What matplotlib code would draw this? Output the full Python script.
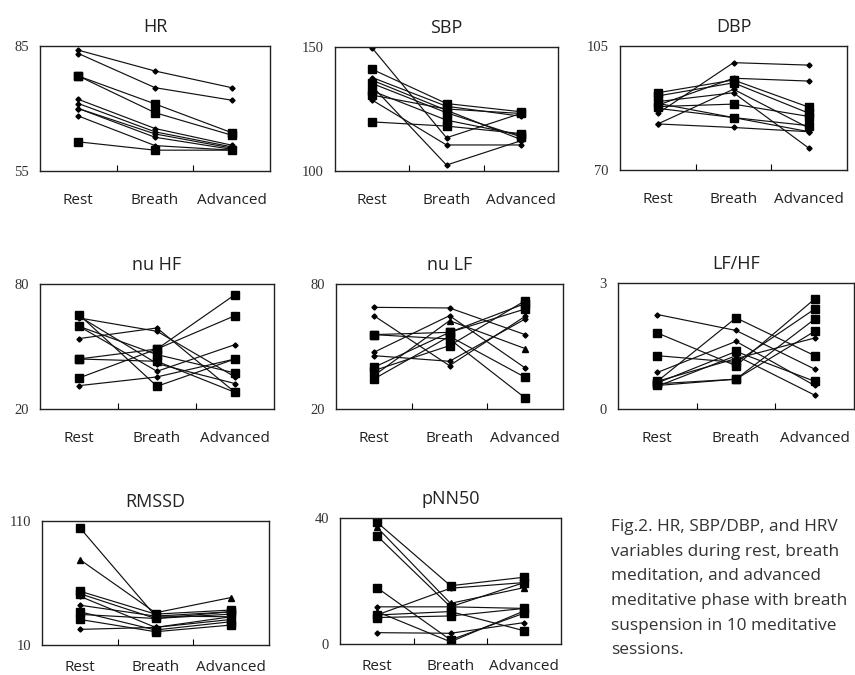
import matplotlib
matplotlib.use("Agg")
import matplotlib.pyplot as plt

phases = ["Rest", "Breath", "Advanced"]

# ten sessions per variable: values at rest, breath, advanced
hr = [[84.0, 79.0, 75.0], [83.2, 75.0, 72.0], [77.8, 71.1, 64.2], [77.8, 69.0, 63.6],
      [72.2, 65.2, 61.2], [71.2, 64.4, 60.8], [70.0, 63.9, 60.5], [70.0, 63.1, 60.2],
      [68.2, 61.1, 60.0], [62.0, 60.0, 60.0]]
hr_marks = ["D", "D", "s", "s", "D", "D", "D", "D", "D", "s"]

sbp = [[149.6, 113.4, 123.2], [134.2, 102.4, 112.2], [128.6, 110.5, 110.5],
       [141.0, 127.2, 123.9], [137.7, 126.1, 122.1], [136.6, 124.5, 112.7],
       [135.3, 123.5, 113.8], [132.3, 120.5, 114.5], [130.6, 125.0, 123.2],
       [119.8, 118.1, 115.1]]
sbp_marks = ["D", "D", "D", "s", "D", "D", "s", "s", "s", "s"]

dbp = [[86.0, 100.3, 99.6], [83.0, 92.8, 81.8], [83.0, 82.0, 80.8], [88.3, 95.9, 95.1],
       [91.8, 95.4, 87.7], [90.9, 94.6, 86.0], [89.3, 91.8, 76.1], [87.9, 88.6, 85.1],
       [87.4, 84.8, 80.8], [88.8, 84.8, 82.5]]
dbp_marks = ["D", "D", "D", "D", "s", "s", "D", "s", "D", "s"]

nuhf = [[31.2, 35.4, 44.0], [34.9, 48.8, 74.9], [53.8, 58.9, 28.0], [65.3, 30.9, 44.0],
        [44.0, 48.8, 64.8], [44.0, 42.9, 28.0], [63.7, 57.3, 35.4], [59.7, 46.1, 37.3],
        [64.5, 41.8, 32.2], [59.7, 38.1, 50.9]]
nuhf_marks = ["D", "s", "D", "s", "s", "s", "D", "s", "D", "D"]

nulf = [[68.8, 68.5, 55.7], [64.8, 40.8, 64.5], [55.7, 53.6, 25.3], [47.2, 64.8, 39.7],
        [45.6, 42.9, 63.2], [40.0, 56.8, 70.6], [38.4, 50.4, 72.0], [36.0, 62.4, 49.0],
        [34.4, 54.9, 35.2], [55.7, 56.8, 68.0]]
nulf_marks = ["D", "D", "s", "D", "D", "s", "s", "^", "s", "s"]

lfhf = [[2.25, 1.87, 0.95], [1.81, 1.03, 2.62], [1.27, 1.11, 2.38], [0.87, 1.61, 0.56],
        [0.66, 2.17, 1.27], [0.62, 1.37, 0.66], [0.56, 0.71, 2.14], [0.54, 1.27, 0.33],
        [0.60, 0.71, 1.85], [0.66, 1.20, 1.69]]
lfhf_marks = ["D", "s", "s", "D", "s", "s", "s", "D", "s", "D"]

rmssd = [[104.6, 33.3, 36.8], [78.9, 36.0, 48.3], [53.4, 34.9, 38.2], [51.4, 31.4, 34.9],
         [49.3, 24.2, 30.6], [42.1, 33.3, 32.8], [36.8, 22.1, 28.8], [34.7, 31.4, 36.8],
         [30.6, 20.7, 26.1], [22.6, 24.2, 32.8]]
rmssd_marks = ["s", "^", "s", "s", "D", "D", "s", "D", "s", "D"]

pnn50 = [[38.7, 18.5, 21.2], [37.1, 12.9, 17.9], [34.4, 11.8, 19.5], [17.9, 1.3, 9.8],
         [11.8, 11.8, 11.3], [10.3, 0.7, 10.5], [9.2, 17.7, 19.5], [8.4, 8.9, 11.3],
         [3.6, 3.4, 6.8], [9.2, 10.3, 4.2]]
pnn50_marks = ["s", "^", "s", "s", "D", "^", "D", "s", "D", "s"]

panels = [
    ("HR", hr, hr_marks, 55, 85, (40, 46, 270, 171)),
    ("SBP", sbp, sbp_marks, 100, 150, (335, 47, 558, 171)),
    ("DBP", dbp, dbp_marks, 70, 105, (620, 46, 847, 170)),
    ("nu HF", nuhf, nuhf_marks, 20, 80, (40, 284, 274, 409)),
    ("nu LF", nulf, nulf_marks, 20, 80, (336, 284, 563, 409)),
    ("LF/HF", lfhf, lfhf_marks, 0, 3, (618, 283, 854, 409)),
    ("RMSSD", rmssd, rmssd_marks, 10, 110, (42, 521, 269, 645)),
    ("pNN50", pnn50, pnn50_marks, 0, 40, (340, 518, 561, 644)),
]

W, H = 855, 675
fig = plt.figure(figsize=(W / 100, H / 100), dpi=100)
fig.patch.set_facecolor("white")

msize = {"s": 5.4, "D": 2.6, "^": 3.8}

for i, (title, data, marks, lo, hi, box) in enumerate(panels):
    l, t, r, b = box
    ax = fig.add_axes([l / W, 1 - b / H, (r - l) / W, (b - t) / H])
    x = [1, 2, 3]
    for vals, m in zip(data, marks):
        ax.plot(x, vals, color="#111", lw=0.85, marker=m, ms=msize[m],
                mfc="black", mec="black")
    ax.set_xlim(0.5, 3.5)
    ax.set_ylim(lo, hi)
    ax.set_xticks(x)
    ax.set_xticklabels(phases, fontsize=11, family="Open Sans", color="#222")
    ax.set_xticks([1.5, 2.5], minor=True)
    # bottom row sits close to the figure edge
    ax.tick_params(axis="x", which="major", length=0, pad=10.5 if i >= 6 else 16)
    ax.tick_params(axis="x", which="minor", direction="in", length=4, width=0.8)
    ax.set_yticks([lo, hi])
    ax.set_yticklabels([str(lo), str(hi)], fontsize=10.5, family="Liberation Serif",
                       color="#333")
    ax.tick_params(axis="y", length=0, pad=8)
    for s in ax.spines.values():
        s.set_linewidth(1.0)
        s.set_color("#222")
    ax.set_title(title, fontsize=13, family="Open Sans", color="#222", pad=10)

caption = ("Fig.2. HR, SBP/DBP, and HRV\n"
           "variables during rest, breath\n"
           "meditation, and advanced\n"
           "meditative phase with breath\n"
           "suspension in 10 meditative\n"
           "sessions.")
fig.text(611 / W, 1 - 519 / H, caption, fontsize=12.4, family="Open Sans",
         color="#333", va="top", ha="left", linespacing=1.72)

fig.savefig("out.png", dpi=100, facecolor="white")
